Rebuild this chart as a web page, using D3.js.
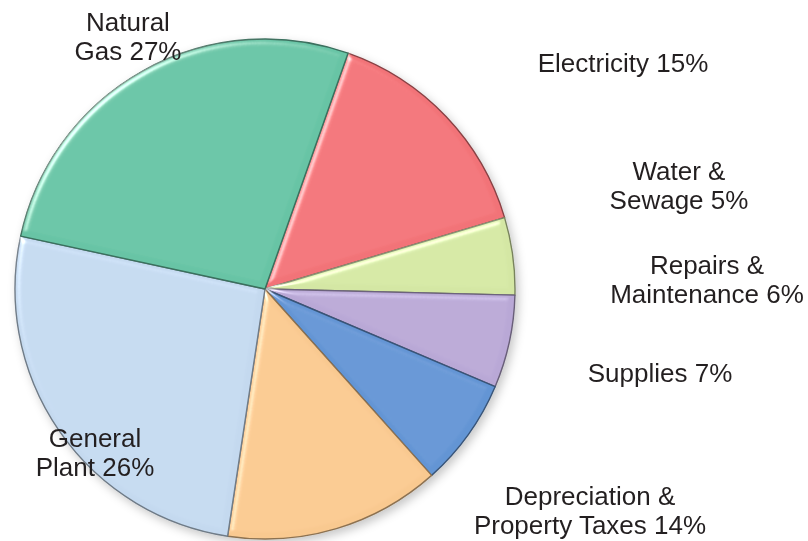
<!DOCTYPE html>
<html>
<head>
<meta charset="utf-8">
<script src="https://cdn.jsdelivr.net/npm/d3@7"></script>
<style>
  html, body { margin: 0; padding: 0; background: #fff; }
  svg { display: block; }
  text { font-family: "Liberation Sans", Arial, sans-serif; font-size: 26px; fill: #231f20; }
</style>
</head>
<body>
<svg id="chart" width="808" height="541"></svg>
<script>
// ---- data ----
const categories = ["Electricity", "Water & Sewage", "Repairs & Maintenance", "Supplies",
                    "Depreciation & Property Taxes", "General Plant", "Natural Gas"];
const values = [15, 5, 6, 7, 14, 26, 27];
const labelLines = [
  ["Electricity 15%"],
  ["Water &", "Sewage 5%"],
  ["Repairs &", "Maintenance 6%"],
  ["Supplies 7%"],
  ["Depreciation &", "Property Taxes 14%"],
  ["General", "Plant 26%"],
  ["Natural", "Gas 27%"]
];

// ---- style / layout ----
const colors = ["#f27378", "#d4e7a4", "#b9a8d6", "#6395d4", "#f9c990", "#c4d9ef", "#67c4a5"];
const cx = 265, cy = 289, radius = 250;
const startOffset = 19.4 * Math.PI / 180;
// label anchor (center x, first baseline y)
const labelAnchors = [
  [623, 72], [679, 180], [707, 274], [660, 382], [590, 505], [95, 447], [128, 31]
];
const lineGap = 29;

const svg = d3.select("#chart");
const defs = svg.append("defs");

const shadow = defs.append("filter").attr("id", "shadow")
  .attr("x", "-10%").attr("y", "-10%").attr("width", "125%").attr("height", "125%");
shadow.append("feDropShadow").attr("dx", 3).attr("dy", 4).attr("stdDeviation", 5)
  .attr("flood-color", "#000").attr("flood-opacity", 0.22);

const bevel = defs.append("filter").attr("id", "bevel")
  .attr("x", "-5%").attr("y", "-5%").attr("width", "110%").attr("height", "110%");
bevel.append("feGaussianBlur").attr("in", "SourceAlpha").attr("stdDeviation", 3).attr("result", "blur");
const spec = bevel.append("feSpecularLighting").attr("in", "blur")
  .attr("surfaceScale", 4).attr("specularConstant", 0.9).attr("specularExponent", 30)
  .attr("lighting-color", "#ffffff").attr("result", "spec");
spec.append("feDistantLight").attr("azimuth", 225).attr("elevation", 35);
bevel.append("feComposite").attr("in", "spec").attr("in2", "SourceAlpha").attr("operator", "in").attr("result", "specIn");
bevel.append("feComposite").attr("in", "SourceGraphic").attr("in2", "specIn")
  .attr("operator", "arithmetic").attr("k1", 0).attr("k2", 1).attr("k3", 0.8).attr("k4", 0);

const pie = d3.pie().sort(null).value(d => d)
  .startAngle(startOffset).endAngle(startOffset + 2 * Math.PI);
const arcs = pie(values);
const arc = d3.arc().innerRadius(0).outerRadius(radius);

const g = svg.append("g").attr("transform", `translate(${cx},${cy})`);
const shadowG = g.append("g").attr("filter", "url(#shadow)");

shadowG.selectAll("path.slice")
  .data(arcs)
  .join("path")
  .attr("class", "slice")
  .attr("d", arc)
  .attr("fill", (d, i) => colors[i])
  .attr("stroke", (d, i) => d3.color(colors[i]).darker(1.6))
  .attr("stroke-width", 1.4)
  .attr("stroke-linejoin", "round")
  .attr("filter", "url(#bevel)");

// ---- labels ----
const labels = svg.append("g");
labelLines.forEach((lines, i) => {
  const t = labels.append("text")
    .attr("text-anchor", "middle")
    .attr("x", labelAnchors[i][0])
    .attr("y", labelAnchors[i][1]);
  lines.forEach((line, j) => {
    t.append("tspan")
      .attr("x", labelAnchors[i][0])
      .attr("dy", j === 0 ? 0 : lineGap)
      .text(line);
  });
});
</script>
</body>
</html>
